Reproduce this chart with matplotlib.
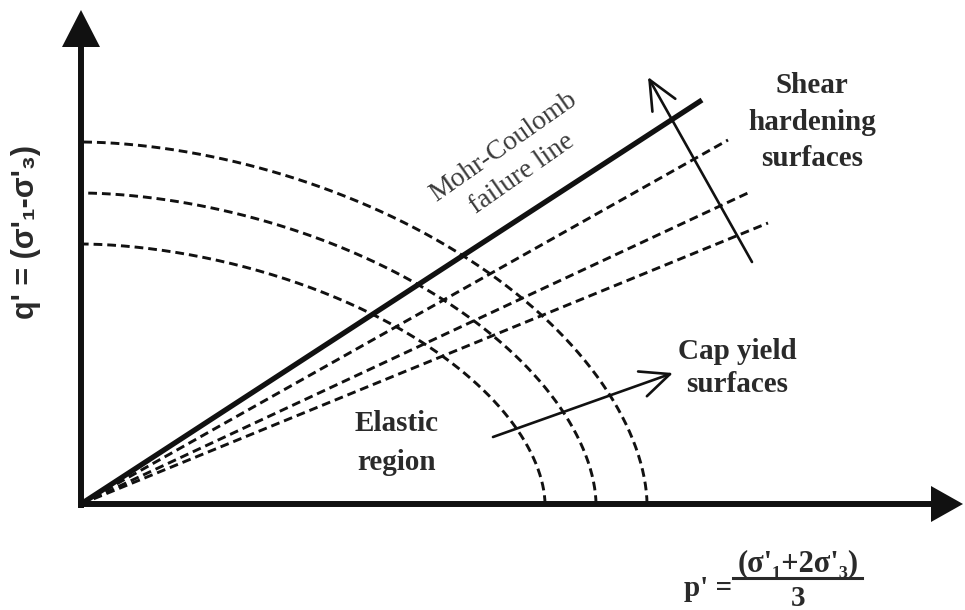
import numpy as np
import matplotlib
matplotlib.use("Agg")
import matplotlib.pyplot as plt

# ---- schematic geometry (pixel-like units, origin at the axes corner) ----
mc_end = [621, 404]                      # Mohr-Coulomb failure line end
shear_ends_p = [647, 669, 687]           # dashed shear hardening lines (p ends)
shear_ends_q = [364, 312, 281]           # dashed shear hardening lines (q ends)
cap_p = [464, 515, 566]                  # cap yield surfaces: p' intercepts
cap_q = [260, 311, 362]                  # cap yield surfaces: q' intercepts
cap_shape = 1.8                          # superellipse exponent of the caps
shear_arrow = [(671, 242), (567, 427)]   # (start, end)
cap_arrow = [(412, 67), (592, 131)]      # (start, end)
q_axis_top = 494
p_axis_end = 882

labels = {
    "mc": "Mohr-Coulomb\nfailure line",
    "shear": "Shear\nhardening\nsurfaces",
    "cap": "Cap yield\nsurfaces",
    "elastic": "Elastic\nregion",
    "ylabel": "q' = (σ'₁-σ'₃)",
    "p": "p' =",
    "num": "(σ'₁+2σ'₃)",
    "den": "3",
}

fig = plt.figure(figsize=(9.65, 6.10), dpi=100)
ax = fig.add_axes([0, 0, 1, 1])
ax.set_xlim(-81, 884)
ax.set_ylim(-106, 504)
ax.axis("off")

ink = "#111111"
txt = "#2a2a2a"

# axes lines + filled arrowheads
ax.plot([0, 0], [-4, q_axis_top - 35], color=ink, lw=4.3, solid_capstyle="butt")
ax.plot([-3, p_axis_end - 30], [0, 0], color=ink, lw=4.3, solid_capstyle="butt")
ax.fill([-19, 19, 0], [q_axis_top - 37, q_axis_top - 37, q_axis_top], color=ink, lw=0)
ax.fill([p_axis_end - 32, p_axis_end - 32, p_axis_end], [-18, 18, 0], color=ink, lw=0)

# Mohr-Coulomb line
ax.plot([0, mc_end[0]], [0, mc_end[1]], color=ink, lw=3.8, solid_capstyle="butt")

# shear hardening dashed lines
for pe, qe in zip(shear_ends_p, shear_ends_q):
    ax.plot([0, pe], [0, qe], color=ink, lw=2.1, dashes=(3.0, 1.7))

# cap yield surfaces (dashed quarter superellipses)
t = np.linspace(0, np.pi / 2, 200)
for a, b in zip(cap_p, cap_q):
    x = a * np.cos(t) ** (2 / cap_shape)
    y = b * np.sin(t) ** (2 / cap_shape)
    ax.plot(x, y, color=ink, lw=2.1, dashes=(3.0, 1.7))

# open arrows
for (s, e) in [shear_arrow, cap_arrow]:
    ax.annotate("", xy=e, xytext=s,
                arrowprops=dict(arrowstyle="->,head_length=1.0,head_width=0.45",
                                lw=1.9, color=ink, mutation_scale=21,
                                shrinkA=0, shrinkB=0))

serif = ["Liberation Serif", "DejaVu Serif"]
sans = ["Liberation Sans", "DejaVu Sans"]

ax.text(432, 344, labels["mc"], rotation=35, rotation_mode="anchor",
        ha="center", va="center", fontsize=20, family=serif, color="#3a3a3a",
        linespacing=1.4)
ax.text(731, 382, labels["shear"], ha="center", va="center", fontsize=21,
        family=serif, fontweight="bold", color=txt, linespacing=1.45)
ax.text(656, 136, labels["cap"], ha="center", va="center", fontsize=21,
        family=serif, fontweight="bold", color=txt, linespacing=1.33)
ax.text(316, 61, labels["elastic"], ha="center", va="center", fontsize=21,
        family=serif, fontweight="bold", color=txt, linespacing=1.6)

ax.text(-55, 272, labels["ylabel"], rotation=90, ha="center", va="center",
        fontsize=22, family=sans, fontweight="bold", color=txt)

ax.text(651, -84, labels["p"], ha="right", va="center", fontsize=21,
        family=serif, fontweight="bold", color=txt)
ax.text(717, -60, labels["num"], ha="center", va="center", fontsize=22,
        family=serif, fontweight="bold", color=txt)
ax.plot([652, 781], [-74, -74], color=txt, lw=2.2)
ax.text(717, -94, labels["den"], ha="center", va="center", fontsize=21,
        family=serif, fontweight="bold", color=txt)

fig.savefig("out.png", dpi=100)
